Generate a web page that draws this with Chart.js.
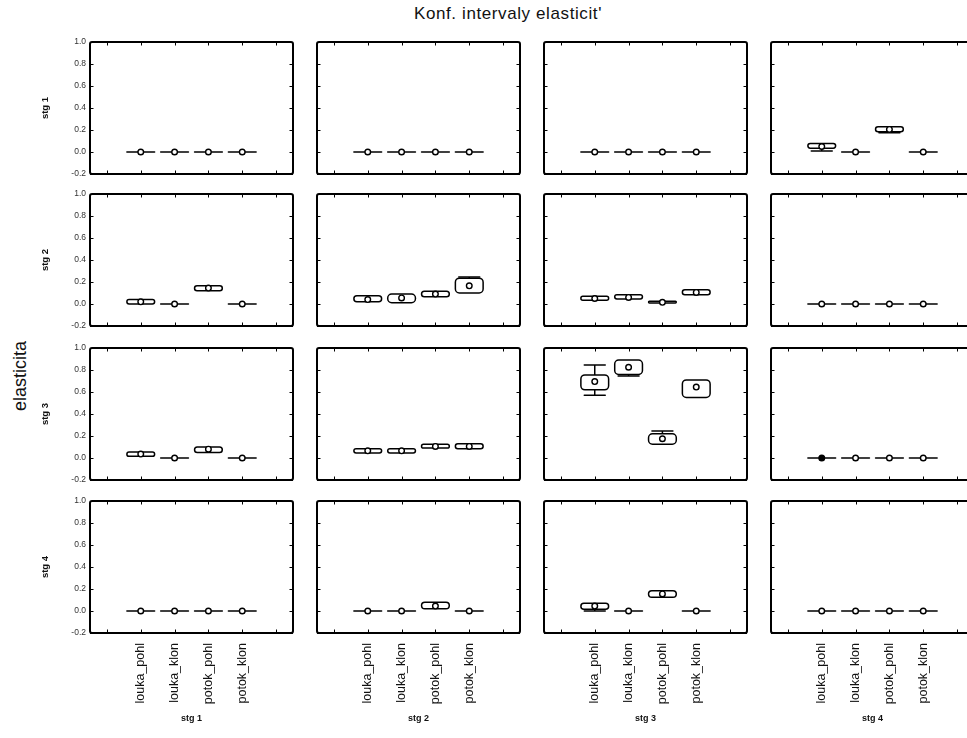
<!DOCTYPE html>
<html>
<head>
<meta charset="utf-8">
<script src="https://cdn.jsdelivr.net/npm/chart.js@4/dist/chart.umd.min.js"></script>
<style>
html,body{margin:0;padding:0;background:#fff;overflow:hidden;}
#wrap{position:relative;width:967px;height:738px;overflow:hidden;background:#fff;font-family:"Liberation Sans",Arial,sans-serif;}
#wrap canvas{position:absolute;}
#title{position:absolute;left:308px;top:4px;width:400px;text-align:center;font-size:17px;letter-spacing:0.6px;color:#111;white-space:nowrap;}
#ylab{position:absolute;left:20px;top:376px;font-size:18px;color:#111;transform:translate(-50%,-50%) rotate(-90deg);white-space:nowrap;}
</style>
</head>
<body>
<div id="wrap">
  <div id="title">Konf. intervaly elasticit'</div>
  <div id="ylab">elasticita</div>
</div>
<script>
// ---------- data ----------
const categories = ['louka_pohl', 'louka_klon', 'potok_pohl', 'potok_klon'];
const rowLabels = ['stg 1', 'stg 2', 'stg 3', 'stg 4'];
const colLabels = ['stg 1', 'stg 2', 'stg 3', 'stg 4'];
const yTicks = [-0.2, 0.0, 0.2, 0.4, 0.6, 0.8, 1.0];
const Z = [0, 0, 0, 0];
// indexed [row][col][category]
const whiskerLow = [
  [Z, Z, Z, [0.010, 0, 0.175, 0]],
  [[-0.005, 0, 0.115, 0], [0.020, 0.010, 0.060, 0.095], [0.030, 0.045, 0.008, 0.080], Z],
  [[0.012, 0, 0.045, 0], [0.045, 0.045, 0.085, 0.080], [0.570, 0.745, 0.120, 0.545], Z],
  [Z, [0, 0, 0.015, 0], [0.000, 0, 0.120, 0], Z]
];
const boxLow = [
  [Z, Z, Z, [0.035, 0, 0.185, 0]],
  [[0.000, 0, 0.120, 0], [0.020, 0.012, 0.065, 0.100], [0.035, 0.045, 0.010, 0.085], Z],
  [[0.015, 0, 0.050, 0], [0.045, 0.045, 0.090, 0.085], [0.620, 0.760, 0.125, 0.550], Z],
  [Z, [0, 0, 0.020, 0], [0.015, 0, 0.125, 0], Z]
];
const medians = [
  [Z, Z, Z, [0.050, 0, 0.205, 0]],
  [[0.020, 0, 0.145, 0], [0.040, 0.055, 0.090, 0.165], [0.050, 0.060, 0.015, 0.105], Z],
  [[0.036, 0, 0.080, 0], [0.065, 0.065, 0.105, 0.105], [0.695, 0.825, 0.175, 0.645], Z],
  [Z, [0, 0, 0.045, 0], [0.045, 0, 0.155, 0], Z]
];
const boxHigh = [
  [Z, Z, Z, [0.078, 0, 0.230, 0]],
  [[0.040, 0, 0.165, 0], [0.075, 0.090, 0.115, 0.235], [0.070, 0.085, 0.025, 0.130], Z],
  [[0.055, 0, 0.100, 0], [0.085, 0.085, 0.125, 0.130], [0.755, 0.890, 0.220, 0.710], Z],
  [Z, [0, 0, 0.080, 0], [0.070, 0, 0.185, 0], Z]
];
const whiskerHigh = [
  [Z, Z, Z, [0.078, 0, 0.230, 0]],
  [[0.040, 0, 0.165, 0], [0.075, 0.090, 0.115, 0.245], [0.070, 0.085, 0.025, 0.130], Z],
  [[0.055, 0, 0.100, 0], [0.085, 0.085, 0.125, 0.130], [0.845, 0.890, 0.245, 0.715], Z],
  [Z, [0, 0, 0.080, 0], [0.070, 0, 0.190, 0], Z]
];
// solid (filled) median markers
const filledMedian = [
  [[0,0,0,0],[0,0,0,0],[0,0,0,0],[0,0,0,0]],
  [[0,0,0,0],[0,0,0,0],[0,0,0,0],[0,0,0,0]],
  [[0,0,0,0],[0,0,0,0],[0,0,0,0],[1,0,0,0]],
  [[0,0,0,0],[0,0,0,0],[0,0,0,0],[0,0,0,0]]
];

// ---------- layout ----------
const colLeft = [90, 317, 544, 771];
const rowTop = [42, 194, 348, 501];
const PW = 203, PH = 132;

const boxPlugin = {
  id: 'boxes',
  beforeDatasetsDraw(chart, args, opts) {
    const {ctx, scales: {x, y}} = chart;
    const r = opts.r, c = opts.c;
    const step = x.getPixelForValue(1) - x.getPixelForValue(0);
    const hw = step * 0.41;
    const cap = step * 0.31;
    ctx.save();
    ctx.strokeStyle = '#000';
    ctx.lineWidth = 1.5;
    ctx.lineJoin = 'round';
    ctx.lineCap = 'round';
    for (let i = 0; i < categories.length; i++) {
      const cx = x.getPixelForValue(i + 1);
      const yl = y.getPixelForValue(boxLow[r][c][i]);
      const yh = y.getPixelForValue(boxHigh[r][c][i]);
      const wl = y.getPixelForValue(whiskerLow[r][c][i]);
      const wh = y.getPixelForValue(whiskerHigh[r][c][i]);
      ctx.beginPath();
      if (wh < yh - 1) {
        ctx.moveTo(cx, yh); ctx.lineTo(cx, wh);
        ctx.moveTo(cx - cap, wh); ctx.lineTo(cx + cap, wh);
      }
      if (wl > yl + 1) {
        ctx.moveTo(cx, yl); ctx.lineTo(cx, wl);
        ctx.moveTo(cx - cap, wl); ctx.lineTo(cx + cap, wl);
      }
      ctx.stroke();
      const top = Math.min(yl, yh), h = Math.abs(yl - yh);
      const rad = Math.min(4, h / 2);
      ctx.beginPath();
      if (h < 0.5) {
        ctx.moveTo(cx - hw, top); ctx.lineTo(cx + hw, top);
      } else {
        ctx.roundRect(cx - hw, top, hw * 2, h, rad);
        ctx.fillStyle = '#fff';
        ctx.fill();
      }
      ctx.stroke();
    }
    ctx.restore();
  },
  afterDraw(chart) {
    const {ctx, chartArea: a, scales: {x, y}} = chart;
    ctx.save();
    ctx.strokeStyle = '#000';
    ctx.lineWidth = 1;
    const tl = 3.5;
    ctx.beginPath();
    for (let i = 0; i < 6; i++) {
      const px = Math.round(x.getPixelForValue(i)) + 0.5;
      ctx.moveTo(px, a.top); ctx.lineTo(px, a.top + tl);
      ctx.moveTo(px, a.bottom); ctx.lineTo(px, a.bottom - tl);
    }
    yTicks.forEach(v => {
      const py = Math.round(y.getPixelForValue(v)) + 0.5;
      ctx.moveTo(a.left, py); ctx.lineTo(a.left + tl, py);
      ctx.moveTo(a.right, py); ctx.lineTo(a.right - tl, py);
    });
    ctx.stroke();
    ctx.lineWidth = 2;
    ctx.lineJoin = 'round';
    ctx.beginPath();
    ctx.roundRect(a.left, a.top, a.right - a.left, a.bottom - a.top, 2);
    ctx.stroke();
    ctx.restore();
  }
};

const wrap = document.getElementById('wrap');
for (let r = 0; r < 4; r++) {
  for (let c = 0; c < 4; c++) {
    const L = c === 0 ? 90 : 12, T = 10, R = 12, B = r === 3 ? 105 : 12;
    const cv = document.createElement('canvas');
    cv.width = PW + L + R;
    cv.height = PH + T + B;
    cv.style.left = (colLeft[c] - L) + 'px';
    cv.style.top = (rowTop[r] - T) + 'px';
    cv.style.width = cv.width + 'px';
    cv.style.height = cv.height + 'px';
    wrap.appendChild(cv);
    const labels = [''].concat(categories, ['']);
    const medData = [null].concat(medians[r][c], [null]);
    const fills = [null].concat(filledMedian[r][c].map(f => f ? '#000' : '#fff'), [null]);
    const showX = r === 3, showY = c === 0;
    new Chart(cv, {
      type: 'line',
      data: {
        labels: labels,
        datasets: [{
          data: medData,
          showLine: false,
          pointRadius: 2.8,
          pointBorderWidth: 1.4,
          pointBorderColor: '#000',
          pointBackgroundColor: fills,
          pointStyle: 'circle'
        }]
      },
      options: {
        responsive: false,
        animation: false,
        devicePixelRatio: 1,
        layout: {padding: {left: showY ? 0 : 12, top: 10, right: 12, bottom: showX ? 0 : 12}},
        plugins: {
          legend: {display: false},
          tooltip: {enabled: false},
          boxes: {r: r, c: c}
        },
        scales: {
          x: {
            type: 'category',
            offset: true,
            display: showX,
            afterFit: s => { s.height = showX ? 105 : 0; },
            grid: {display: false, drawTicks: false},
            border: {display: false},
            ticks: {
              autoSkip: false,
              minRotation: 90,
              maxRotation: 90,
              padding: 10,
              color: '#111',
              font: {family: '"Liberation Sans", Arial, sans-serif', size: 12.5}
            },
            title: {
              display: true,
              text: colLabels[c],
              color: '#111',
              padding: {top: 0, bottom: 14},
              font: {family: '"Liberation Sans", Arial, sans-serif', size: 9, weight: 'bold'}
            }
          },
          y: {
            type: 'linear',
            min: -0.2,
            max: 1.0,
            display: showY,
            afterFit: s => { s.width = showY ? 90 : 0; },
            afterBuildTicks: s => { s.ticks = yTicks.map(v => ({value: v})); },
            grid: {display: false, drawTicks: false},
            border: {display: false},
            ticks: {
              padding: 4,
              color: '#333',
              font: {family: '"Liberation Sans", Arial, sans-serif', size: 8.5},
              callback: v => Number(v).toFixed(1)
            },
            title: {
              display: true,
              text: rowLabels[r],
              color: '#111',
              padding: {top: 40, bottom: 0},
              font: {family: '"Liberation Sans", Arial, sans-serif', size: 9.5, weight: 'bold'}
            }
          }
        }
      },
      plugins: [boxPlugin]
    });
  }
}
</script>
</body>
</html>
